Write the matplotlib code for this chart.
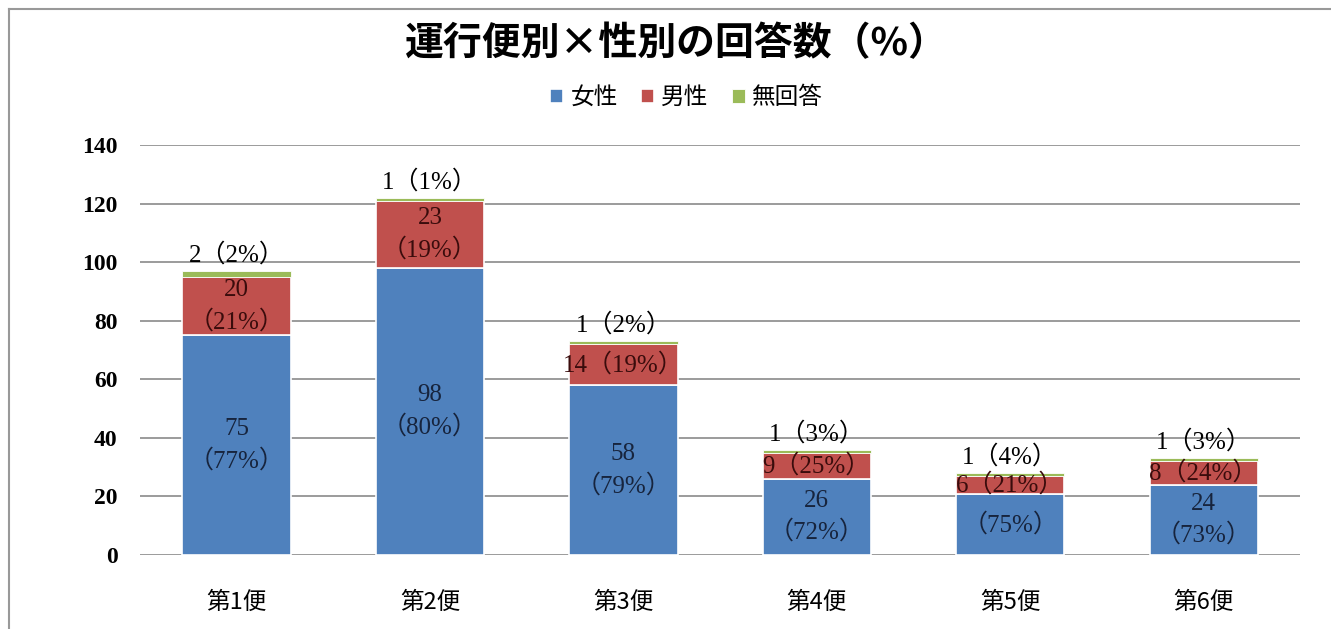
import matplotlib
matplotlib.use('AGG')
import matplotlib.pyplot as plt
from matplotlib.lines import Line2D
import numpy as np

plt.rcParams['font.family'] = ['Noto Sans CJK JP', 'DejaVu Sans']

categories = ['第1便', '第2便', '第3便', '第4便', '第5便', '第6便']
female = [75, 98, 58, 26, 21, 24]
male = [20, 23, 14, 9, 6, 8]
no_answer = [2, 1, 1, 1, 1, 1]
female_pct = [77, 80, 79, 72, 75, 73]
male_pct = [21, 19, 19, 25, 21, 24]
no_answer_pct = [2, 1, 2, 3, 4, 3]
yticks = [0, 20, 40, 60, 80, 100, 120, 140]

blue = '#4F81BD'
red = '#C0504D'
green = '#9BBB59'
label_font = ['Liberation Serif', 'Noto Sans CJK JP']

fig = plt.figure(figsize=(13.31, 6.29), dpi=100)
ax = fig.add_axes([0.105, 0.1176, 0.872, 0.652])

x = np.arange(len(categories))
female = np.array(female)
male = np.array(male)
no_answer = np.array(no_answer)
w = 0.56

ax.bar(x, female, w, color=blue, edgecolor='white', linewidth=1.2, label='女性', zorder=3)
ax.bar(x, male, w, bottom=female, color=red, edgecolor='white', linewidth=1.2, label='男性', zorder=3)
ax.bar(x, no_answer, w, bottom=female + male, color=green, edgecolor='white', linewidth=0.6, label='無回答', zorder=3)

for i in range(len(categories)):
    # female labels
    if i == 4:
        ftxt = '（%d%%）' % female_pct[i]
    else:
        ftxt = '%d\n（%d%%）' % (female[i], female_pct[i])
    ax.text(x[i], female[i] / 2, ftxt, ha='center', va='center', fontsize=18,
            color='#17243d', family=label_font, linespacing=1.45, zorder=4)
    # male labels
    if male[i] >= 18:
        mtxt = '%d\n（%d%%）' % (male[i], male_pct[i])
    else:
        mtxt = '%d（%d%%）' % (male[i], male_pct[i])
    ax.text(x[i], female[i] + male[i] / 2, mtxt, ha='center', va='center', fontsize=18,
            color='#3a0c0c', family=label_font, linespacing=1.45, zorder=4)
    # no answer labels
    top = female[i] + male[i] + no_answer[i]
    ax.text(x[i], top + 1.5, '%d（%d%%）' % (no_answer[i], no_answer_pct[i]), ha='center',
            va='bottom', fontsize=18, color='black', family=label_font, zorder=4)

ax.set_xlim(-0.5, len(categories) - 0.5)
ax.set_ylim(0, 140)
ax.set_yticks(yticks)
ax.set_yticklabels([str(v) for v in yticks], family=['Liberation Serif'], fontsize=17, fontweight='bold')
ax.set_xticks(x)
ax.set_xticklabels(categories, fontsize=17)
ax.tick_params(axis='both', length=0)
ax.tick_params(axis='y', pad=16)
ax.tick_params(axis='x', pad=26)
ax.grid(axis='y', color='#8a8a8a', linewidth=1.2, zorder=0)
for s in ax.spines.values():
    s.set_visible(False)

fig.text(0.508, 0.93, '運行便別×性別の回答数（%）', ha='center', va='center',
         fontsize=28, fontweight='bold')
fig.legend(loc='center', bbox_to_anchor=(0.516, 0.845), ncol=3, frameon=False,
           fontsize=17, handlelength=0.55, handleheight=0.55, handletextpad=0.3,
           columnspacing=1.0)

# chart frame (left and top edges)
fig.add_artist(Line2D([9 / 1331, 9 / 1331], [0, 1 - 9 / 629], color='#999999', linewidth=1.5,
                      transform=fig.transFigure))
fig.add_artist(Line2D([9 / 1331, 1], [1 - 9 / 629, 1 - 9 / 629], color='#999999', linewidth=1.5,
                      transform=fig.transFigure))

plt.savefig('out.png', dpi=100)
